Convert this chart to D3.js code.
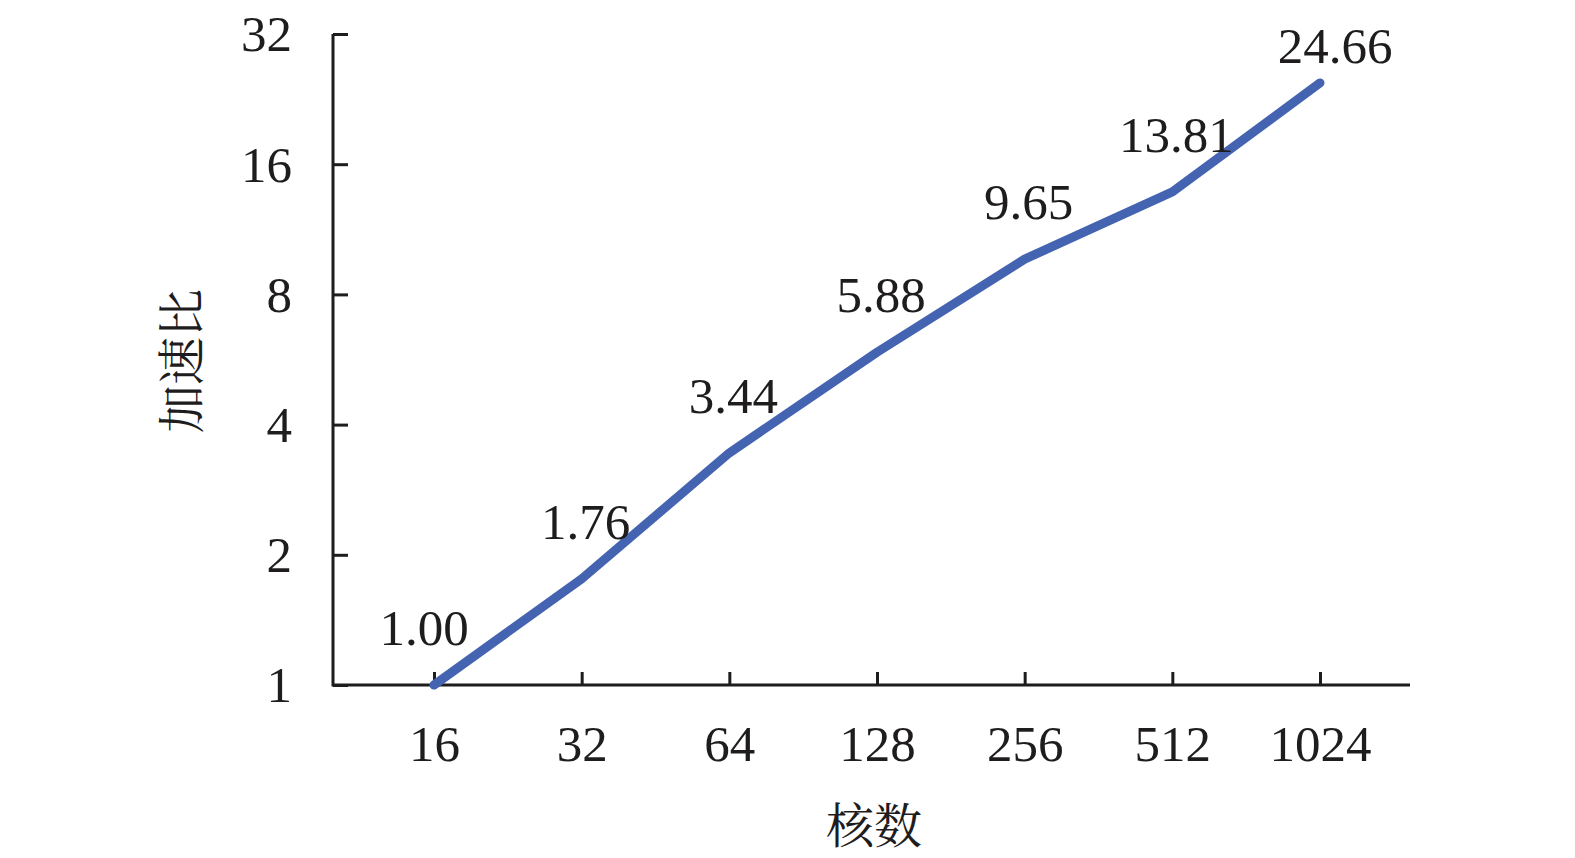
<!DOCTYPE html>
<html>
<head>
<meta charset="utf-8">
<script src="https://cdn.jsdelivr.net/npm/d3@7"></script>
<style>
  body { margin: 0; background: #fff; }
  svg { display: block; }
</style>
</head>
<body>
<svg id="chart"></svg>
<script>
// data
const cores = ['16', '32', '64', '128', '256', '512', '1024']
const speedup = [1.00, 1.76, 3.44, 5.88, 9.65, 13.81, 24.66]
const yTicks = [1, 2, 4, 8, 16, 32]
const xTitle = '核数'
const yTitle = '加速比'

const width = 1575, height = 858
const serif = '"Liberation Serif", "Times New Roman", serif'
const cjk = '"Noto Serif CJK SC", "Noto Sans CJK SC", sans-serif'
const ink = '#1e1c1d'

const svg = d3.select('#chart')
    .attr('width', width)
    .attr('height', height)

const x = d3.scalePoint()
    .domain(cores)
    .range([434, 1320])

const y = d3.scaleLog()
    .base(2)
    .domain([1, 32])
    .range([685, 34])

// x axis: ticks point up into the plot
const gx = svg.append('g')
    .attr('transform', `translate(0,${y(1)})`)
    .call(d3.axisBottom(x).tickSizeInner(-13).tickSizeOuter(0).tickPadding(0))
gx.select('.domain').remove()
gx.append('line')
    .attr('x1', 333).attr('x2', 1410)
    .attr('stroke', ink).attr('stroke-width', 3)
gx.selectAll('.tick line').attr('stroke', ink).attr('stroke-width', 3)
gx.selectAll('.tick text')
    .attr('y', 76)
    .attr('dy', 0)
    .attr('fill', ink)
    .style('font-family', serif)
    .style('font-size', '51px')

// y axis: ticks point right into the plot
const gy = svg.append('g')
    .attr('transform', 'translate(333,0)')
    .call(d3.axisLeft(y).tickValues(yTicks).tickFormat(d3.format('d'))
        .tickSizeInner(-15).tickSizeOuter(0).tickPadding(0))
gy.select('.domain').remove()
gy.append('line')
    .attr('y1', y(32)).attr('y2', y(1) + 1.5)
    .attr('stroke', ink).attr('stroke-width', 3)
gy.selectAll('.tick line').attr('stroke', ink).attr('stroke-width', 3)
gy.selectAll('.tick text')
    .attr('x', -41)
    .attr('dy', '0.33em')
    .attr('fill', ink)
    .style('font-family', serif)
    .style('font-size', '51px')

// the speedup line
const line = d3.line()
    .x((d, i) => x(cores[i]))
    .y(d => y(d))

svg.append('path')
    .datum(speedup)
    .attr('d', line)
    .attr('fill', 'none')
    .attr('stroke', '#4464b2')
    .attr('stroke-width', 9)
    .attr('stroke-linejoin', 'round')
    .attr('stroke-linecap', 'round')

// value labels above each point, kept clear of the top edge
const last = speedup.length - 1
svg.append('g')
    .selectAll('text')
    .data(speedup)
    .join('text')
    .attr('x', (d, i) => x(cores[i]) + (i === 0 ? -10 : i === last ? 15 : 4))
    .attr('y', d => Math.max(y(d) - 40, 63))
    .attr('text-anchor', 'middle')
    .attr('fill', ink)
    .style('font-family', serif)
    .style('font-size', '51px')
    .text(d => d3.format('.2f')(d))

// axis titles
svg.append('text')
    .attr('x', 874)
    .attr('y', 843)
    .attr('text-anchor', 'middle')
    .attr('fill', ink)
    .style('font-family', cjk)
    .style('font-size', '48px')
    .text(xTitle)

svg.append('text')
    .attr('transform', 'translate(199,361) rotate(-90)')
    .attr('text-anchor', 'middle')
    .attr('fill', ink)
    .style('font-family', cjk)
    .style('font-size', '48px')
    .text(yTitle)
</script>
</body>
</html>
